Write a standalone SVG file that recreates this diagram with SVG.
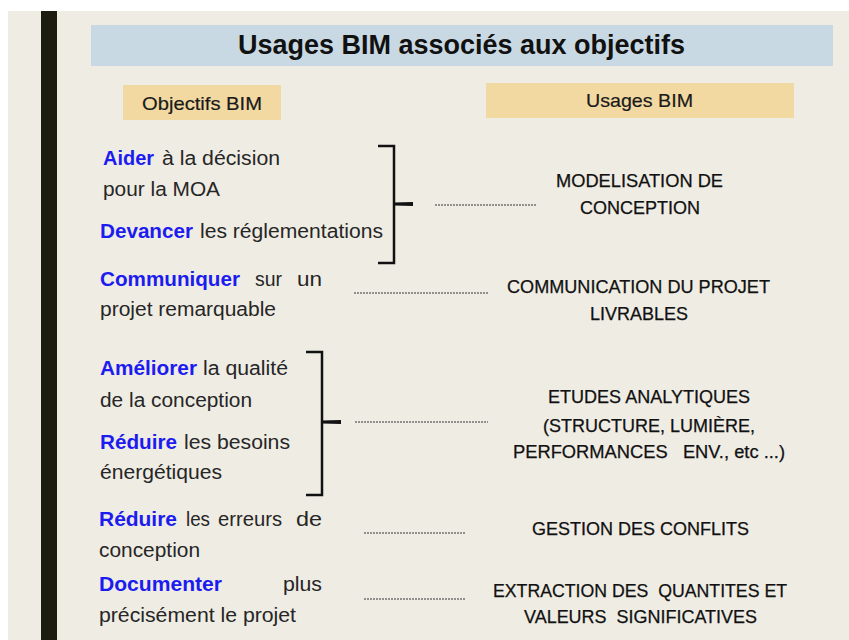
<svg xmlns="http://www.w3.org/2000/svg" width="849" height="640" viewBox="0 0 849 640">
<style>
.l{font-family:"Liberation Sans",Arial,sans-serif;font-size:20px;fill:#262626}
.b{font-weight:bold;fill:#1c1cf0}
.r{font-family:"Liberation Sans",Arial,sans-serif;font-size:18px;fill:#111;stroke:#111;stroke-width:0.25;white-space:pre}
.h{font-family:"Liberation Sans",Arial,sans-serif;font-size:19px;fill:#1a1a1a;stroke:#1a1a1a;stroke-width:0.2}
.dash{stroke:#333;stroke-width:1;stroke-dasharray:2 1;fill:none}
.br{stroke:#111;stroke-width:2.5;fill:none}
.tk{fill:#111}
</style>
<rect x="0" y="0" width="849" height="640" fill="#ffffff"/>
<rect x="8" y="11" width="841" height="629" fill="#EFECE4"/>
<rect x="41" y="11" width="16" height="629" fill="#1c1c10"/>
<g id="title">
<rect x="91" y="25" width="742" height="41" fill="#C9D9E3"/>
<text x="238" y="54" font-family="Liberation Sans,Arial,sans-serif" font-size="28" font-weight="bold" fill="#111" textLength="447" lengthAdjust="spacingAndGlyphs">Usages BIM associés aux objectifs</text>
</g>
<g id="header-objectifs">
<rect x="123" y="85" width="158" height="35" fill="#F2D9A2"/>
<text class="h" x="142" y="110" textLength="120" lengthAdjust="spacingAndGlyphs">Objectifs BIM</text>
</g>
<g id="header-usages">
<rect x="486" y="83" width="308" height="35" fill="#F2D9A2"/>
<text class="h" x="586" y="107" textLength="107" lengthAdjust="spacingAndGlyphs">Usages BIM</text>
</g>
<g id="obj-aider">
<text class="l b" x="103" y="165" textLength="51" lengthAdjust="spacingAndGlyphs">Aider</text>
<text class="l" x="162" y="165" textLength="118" lengthAdjust="spacingAndGlyphs">à la décision</text>
<text class="l" x="103" y="196" textLength="117" lengthAdjust="spacingAndGlyphs">pour la MOA</text>
</g>
<g id="obj-devancer">
<text class="l b" x="100" y="238" textLength="93" lengthAdjust="spacingAndGlyphs">Devancer</text>
<text class="l" x="200" y="238" textLength="183" lengthAdjust="spacingAndGlyphs">les réglementations</text>
</g>
<g id="obj-communiquer">
<text class="l b" x="100" y="286" textLength="140" lengthAdjust="spacingAndGlyphs">Communiquer</text>
<text class="l" x="255" y="286" textLength="27" lengthAdjust="spacingAndGlyphs">sur</text>
<text class="l" x="297" y="286" textLength="25" lengthAdjust="spacingAndGlyphs">un</text>
<text class="l" x="100" y="316" textLength="176" lengthAdjust="spacingAndGlyphs">projet remarquable</text>
</g>
<g id="obj-ameliorer">
<text class="l b" x="100" y="375" textLength="97" lengthAdjust="spacingAndGlyphs">Améliorer</text>
<text class="l" x="203" y="375" textLength="85" lengthAdjust="spacingAndGlyphs">la qualité</text>
<text class="l" x="100" y="407" textLength="152" lengthAdjust="spacingAndGlyphs">de la conception</text>
</g>
<g id="obj-reduire-besoins">
<text class="l b" x="100" y="449" textLength="77" lengthAdjust="spacingAndGlyphs">Réduire</text>
<text class="l" x="184" y="449" textLength="106" lengthAdjust="spacingAndGlyphs">les besoins</text>
<text class="l" x="100" y="479" textLength="122" lengthAdjust="spacingAndGlyphs">énergétiques</text>
</g>
<g id="obj-reduire-erreurs">
<text class="l b" x="99" y="526" textLength="78" lengthAdjust="spacingAndGlyphs">Réduire</text>
<text class="l" x="186" y="526" textLength="24" lengthAdjust="spacingAndGlyphs">les</text>
<text class="l" x="218" y="526" textLength="64" lengthAdjust="spacingAndGlyphs">erreurs</text>
<text class="l" x="296" y="526" textLength="26" lengthAdjust="spacingAndGlyphs">de</text>
<text class="l" x="99" y="557" textLength="101" lengthAdjust="spacingAndGlyphs">conception</text>
</g>
<g id="obj-documenter">
<text class="l b" x="99" y="591" textLength="123" lengthAdjust="spacingAndGlyphs">Documenter</text>
<text class="l" x="283" y="591" textLength="39" lengthAdjust="spacingAndGlyphs">plus</text>
<text class="l" x="99" y="622" textLength="197" lengthAdjust="spacingAndGlyphs">précisément le projet</text>
</g>
<g id="usage-modelisation">
<text class="r" x="556" y="187" textLength="167" lengthAdjust="spacingAndGlyphs">MODELISATION DE</text>
<text class="r" x="580" y="214" textLength="120" lengthAdjust="spacingAndGlyphs">CONCEPTION</text>
</g>
<g id="usage-communication">
<text class="r" x="507" y="293" textLength="263" lengthAdjust="spacingAndGlyphs">COMMUNICATION DU PROJET</text>
<text class="r" x="590" y="320" textLength="98" lengthAdjust="spacingAndGlyphs">LIVRABLES</text>
</g>
<g id="usage-etudes">
<text class="r" x="548" y="403" textLength="202" lengthAdjust="spacingAndGlyphs">ETUDES ANALYTIQUES</text>
<text class="r" x="543" y="432" textLength="212" lengthAdjust="spacingAndGlyphs">(STRUCTURE, LUMIÈRE,</text>
<text class="r" x="513" y="458" textLength="272" lengthAdjust="spacingAndGlyphs">PERFORMANCES   ENV., etc ...)</text>
</g>
<g id="usage-conflits">
<text class="r" x="532" y="535" textLength="217" lengthAdjust="spacingAndGlyphs">GESTION DES CONFLITS</text>
</g>
<g id="usage-extraction">
<text class="r" x="493" y="597" textLength="294" lengthAdjust="spacingAndGlyphs">EXTRACTION DES  QUANTITES ET</text>
<text class="r" x="524" y="623" textLength="233" lengthAdjust="spacingAndGlyphs">VALEURS  SIGNIFICATIVES</text>
</g>
<g id="connectors">
<path class="br" d="M378,146 H394 V263 H378"/>
<polygon class="tk" points="394,202.5 413,202 413,206 394,205.5"/>
<path class="br" d="M306,352 H322 V495 H306"/>
<polygon class="tk" points="322,420.5 341,420 341,424 322,423.5"/>
<line class="dash" x1="435" y1="205" x2="537" y2="205"/>
<line class="dash" x1="354" y1="293" x2="488" y2="293"/>
<line class="dash" x1="355" y1="422" x2="488" y2="422"/>
<line class="dash" x1="364" y1="533" x2="466" y2="533"/>
<line class="dash" x1="364" y1="599" x2="466" y2="599"/>
</g>
</svg>
